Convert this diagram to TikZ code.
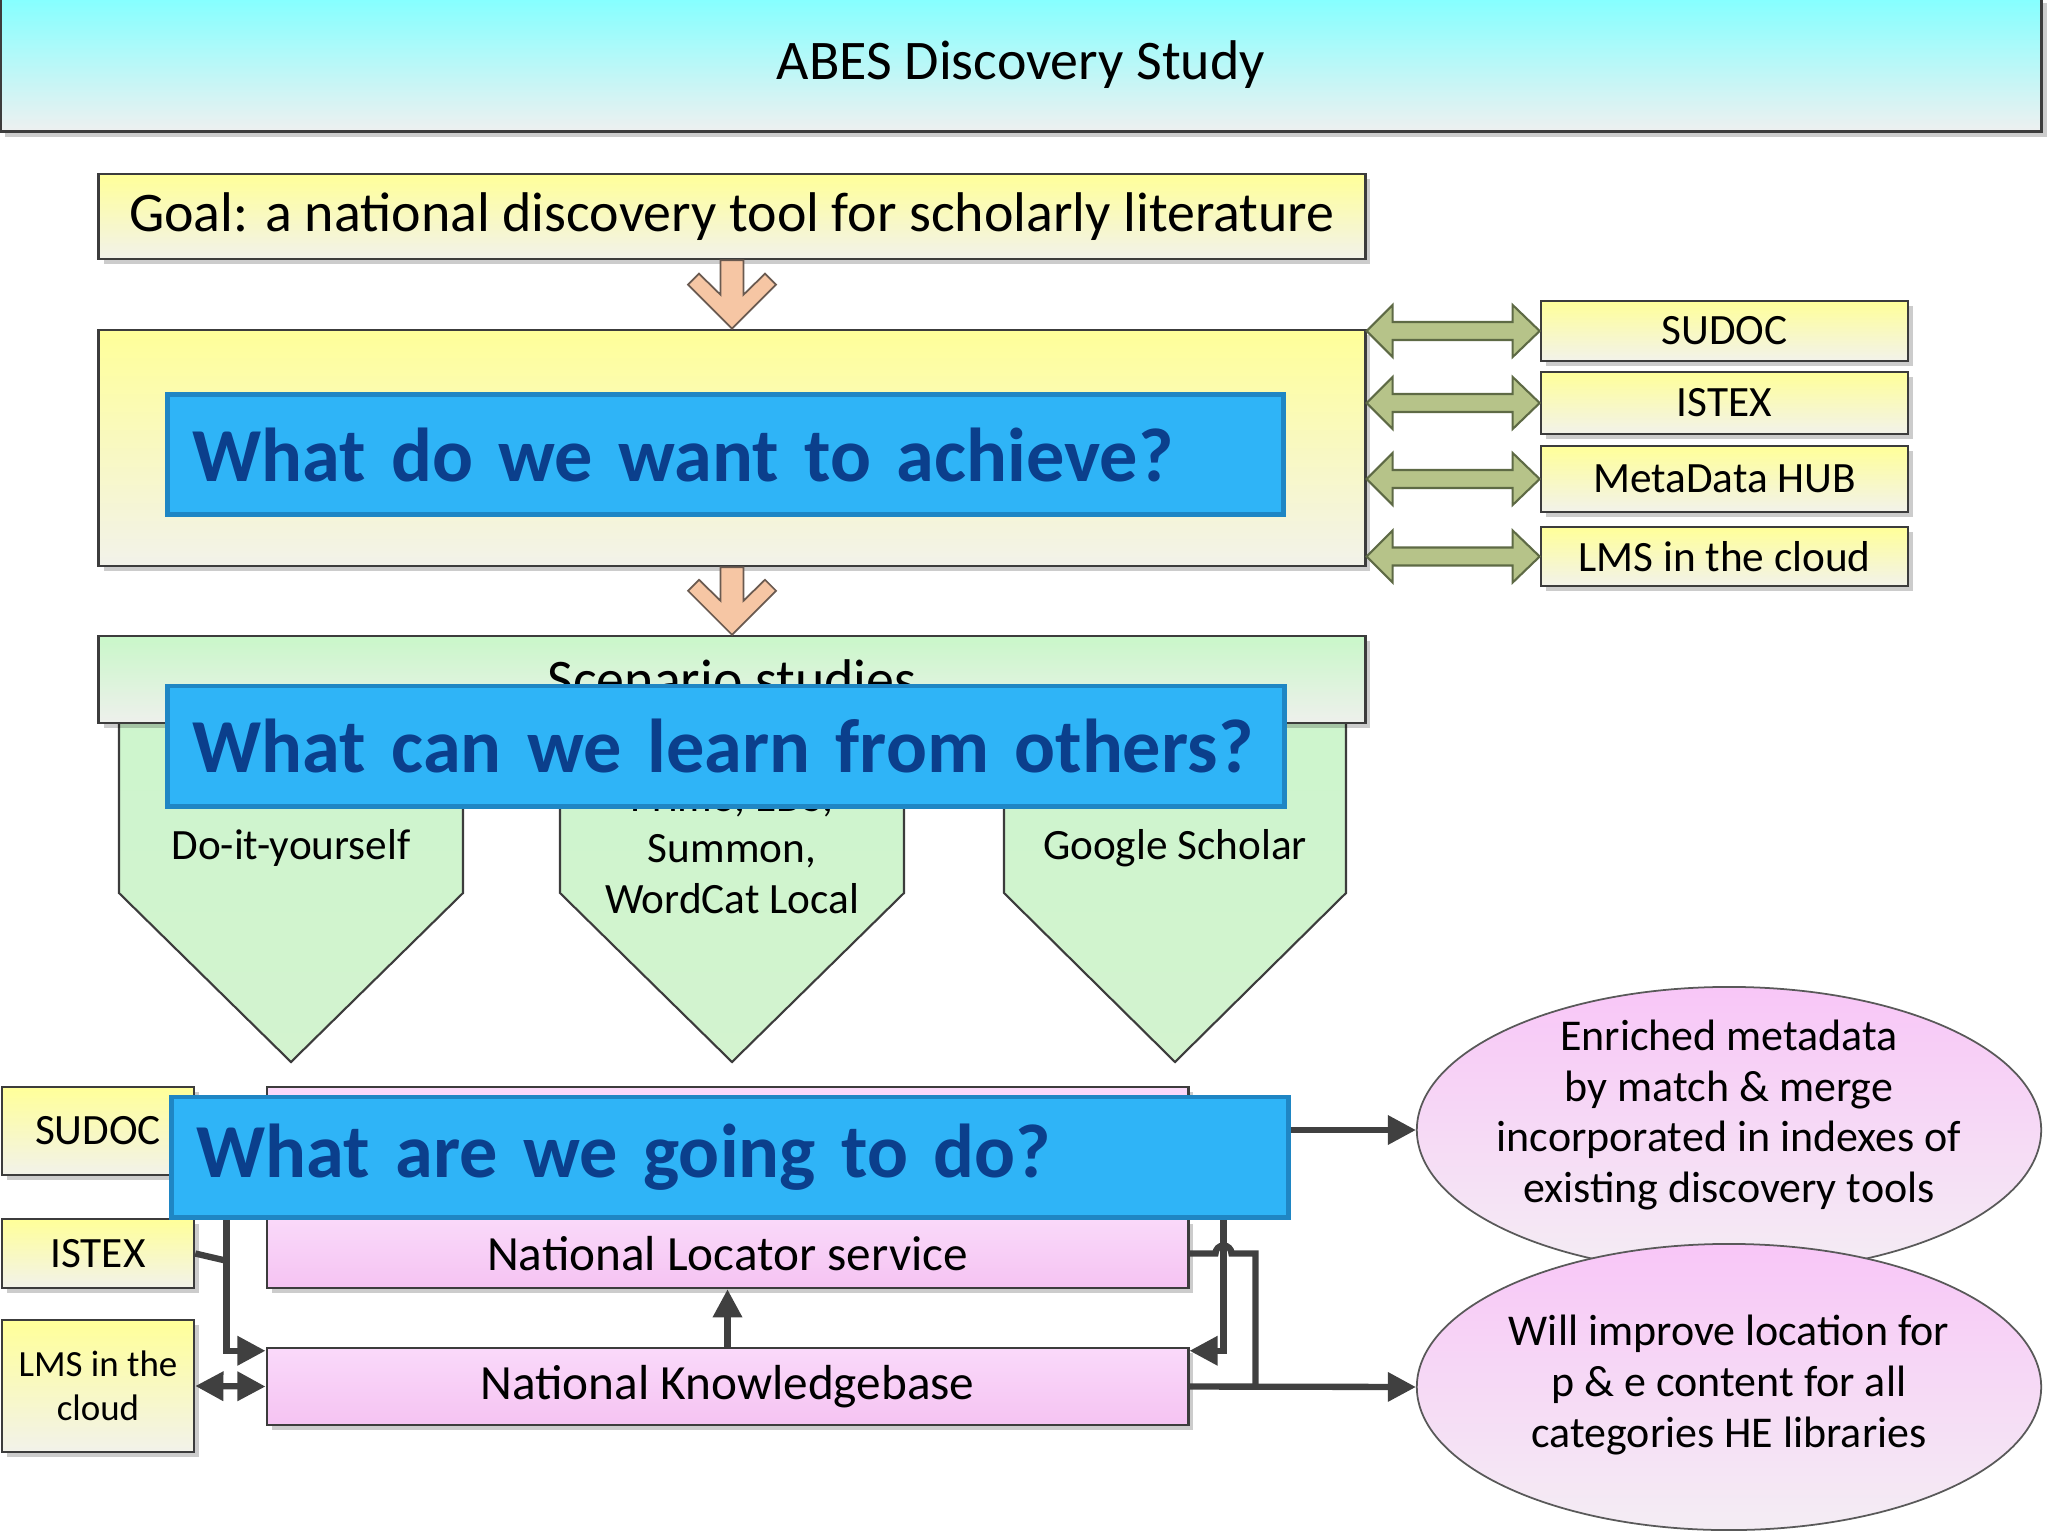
\documentclass[tikz,border=0pt]{standalone}
\usepackage{fontspec}
\setmainfont{Carlito}
\usetikzlibrary{calc,shapes.geometric,arrows.meta,shadows}
\definecolor{titletop}{HTML}{85FFFF}
\definecolor{titlebot}{HTML}{EEF0F0}
\definecolor{yelltop}{HTML}{FFFF99}
\definecolor{yellbot}{HTML}{F2F2EA}
\definecolor{greentop}{HTML}{C9F7C9}
\definecolor{greenbot}{HTML}{EEF0EC}
\definecolor{penttop}{HTML}{CDF5CD}
\definecolor{pentbot}{HTML}{D3F3CF}
\definecolor{qblue}{HTML}{2FB4F7}
\definecolor{qbline}{HTML}{1F86C4}
\definecolor{qtext}{HTML}{0B3F8C}
\definecolor{pinktop}{HTML}{FAD9FA}
\definecolor{pinkbot}{HTML}{F5C3F2}
\definecolor{elltop}{HTML}{F8C6F7}
\definecolor{ellbot}{HTML}{F4EDF4}
\definecolor{peach}{HTML}{F6C6A4}
\definecolor{peachline}{HTML}{6A5A50}
\definecolor{olive}{HTML}{B6C389}
\definecolor{oliveline}{HTML}{5E6A45}
\definecolor{boxline}{HTML}{3C3C3C}
\definecolor{connc}{HTML}{404040}
\newcommand\fTitle{\fontsize{15.9}{19}\selectfont}
\newcommand\fSmall{\fontsize{12.3}{14.5}\selectfont}
\newcommand\fTiny{\fontsize{10.5}{12.6}\selectfont}
\newcommand\fPink{\fontsize{14}{17}\selectfont}
\newcommand\fEll{\fontsize{12.5}{14.5}\selectfont}
\newcommand\fQ{\bfseries\fontsize{21.7}{26}\selectfont\hyphenpenalty=10000}
\newcommand\peachdown[2]{%
  \draw[peacharrow] ($(#1)+(-11.5,0)$) -- ($(#2)+(-11.5,-34)$) -- ($(#2)+(-33,-55)$)
    -- ($(#2)+(-44,-44)$) -- (#2) -- ($(#2)+(44,-44)$) -- ($(#2)+(33,-55)$)
    -- ($(#2)+(11.5,-34)$) -- ($(#1)+(11.5,0)$) -- cycle;}
\newcommand\olivedouble[2]{%
  \draw[olivearrow] (#1) -- ($(#1)+(26,-26)$) -- ($(#1)+(26,-9)$) -- ($(#2)+(-27,-9)$)
    -- ($(#2)+(-27,-26)$) -- (#2) -- ($(#2)+(-27,26)$) -- ($(#2)+(-27,9)$)
    -- ($(#1)+(26,9)$) -- ($(#1)+(26,26)$) -- cycle;}
\tikzset{
  sz/.style 2 args={minimum width=#1cm, minimum height=#2cm},
  shad/.style={drop shadow={shadow xshift=0.05cm, shadow yshift=-0.05cm, opacity=0.2, fill=black}},
  box/.style={draw=boxline, line width=0.7pt, inner sep=0pt, align=center, shad},
  titlebox/.style={box, line width=1pt, top color=titletop, bottom color=titlebot, font=\fTitle},
  yellowbox/.style={box, top color=yelltop, bottom color=yellbot},
  greenbox/.style={box, top color=greentop, bottom color=greenbot},
  pinkbox/.style={box, top color=pinktop, bottom color=pinkbot, font=\fPink},
  bluebox/.style={fill=qblue, draw=qbline, line width=1.4pt, text=qtext, font=\fQ,
    minimum width=11.16cm, minimum height=1.20cm, text width=10.76cm,
    inner xsep=0.2cm, inner ysep=0pt, align=left},
  pent/.style={draw=boxline, line width=0.6pt, top color=penttop, bottom color=pentbot},
  ptext/.style={font=\fSmall, align=center, inner sep=0pt},
  ellbox/.style={ellipse, draw=black!65, line width=0.5pt, top color=elltop, bottom color=ellbot,
    minimum width=6.24cm, minimum height=2.86cm, inner sep=0pt},
  etext/.style={font=\fEll, align=center, inner sep=0pt},
  peacharrow/.style={fill=peach, draw=peachline, line width=0.5pt, line join=miter},
  olivearrow/.style={fill=olive, draw=oliveline, line width=0.6pt, line join=miter},
  conn/.style={draw=connc, line width=1.8pt},
  tip/.style={-{Triangle[length=8pt,width=8pt]}},
}
\begin{document}
\begin{tikzpicture}[x=0.01cm, y=-0.01cm]
\useasboundingbox (0,0) rectangle (2048,1536);
% title
\node[titlebox, sz={20.40}{1.33}] (title) at (1021,65) {ABES Discovery Study};
% goal
\node[yellowbox, sz={12.66}{0.85}, font=\fTitle] (goal) at (732,216.5)
  {Goal: a national discovery tool for scholarly literature};
\node[yellowbox, sz={12.66}{2.36}] (mid) at (732,448) {};
\peachdown{goal.south}{mid.north}
\node[bluebox] (q1) at (725.5,454.5) {\hspace*{0.05cm}What do we want to achieve?};
% right boxes
\node[yellowbox, sz={3.67}{0.60}, font=\fSmall] (sudocR) at (1724.5,331) {SUDOC};
\node[yellowbox, sz={3.67}{0.62}, font=\fSmall] (istexR) at (1724.5,403) {ISTEX};
\node[yellowbox, sz={3.67}{0.66}, font=\fSmall] (metaR) at (1724.5,479) {MetaData HUB};
\node[yellowbox, sz={3.67}{0.59}, font=\fSmall] (lmsR) at (1724.5,556.5) {LMS in the cloud};
\foreach \n in {sudocR,istexR,metaR,lmsR}{
  \coordinate (\n-l) at (mid.east |- \n.west);
  \olivedouble{\n-l}{\n.west}
}
% scenario studies
\draw[pent] (119,700) -- (119,893) -- (291,1062) -- (463,893) -- (463,700) -- cycle;
\draw[pent] (560,700) -- (560,893) -- (732,1062) -- (904,893) -- (904,700) -- cycle;
\draw[pent] (1004,700) -- (1004,893) -- (1175,1062) -- (1346,893) -- (1346,700) -- cycle;
\node[ptext] (p1t) at (291,848) {Do-it-yourself};
\node[ptext] (p2t) at (732,848) {Primo, EDS,\\Summon,\\WordCat Local};
\node[ptext] (p3t) at (1175,848) {Google Scholar};
\node[greenbox, sz={12.66}{0.87}, font=\fTitle] (scen) at (732,679.5) {Scenario studies};
\peachdown{mid.south}{scen.north}
\node[bluebox] (q2) at (726,746) {\hspace*{0.05cm}What can we learn from others?};
% bottom section
\node[pinkbox, sz={9.21}{1.13}] (ptop) at (727.5,1143.5) {};
\node[pinkbox, sz={9.21}{0.69}] (loc) at (727.5,1253.5) {National Locator service};
\node[pinkbox, sz={9.21}{0.77}] (kb) at (727.5,1386.5) {National Knowledgebase};
\node[yellowbox, sz={1.92}{0.88}, font=\fSmall] (sudocL) at (98,1131) {SUDOC};
\node[yellowbox, sz={1.92}{0.69}, font=\fSmall] (istexL) at (98,1253.5) {ISTEX};
\node[yellowbox, sz={1.92}{1.32}, font=\fTiny] (lmsL) at (98,1386) {LMS in the\\cloud};
\node[ellbox] (e1) at (1729,1130) {};
\node[etext] (e1t) at (1729,1115) {Enriched metadata\\by match \& merge\\incorporated in indexes of\\existing discovery tools};
\node[ellbox] (e2) at (1729,1387) {};
\node[etext] (e2t) at (1729,1385) {Will improve location for\\p \& e content for all\\categories HE libraries};
% connectors
\coordinate (j1) at ($(kb.east)+(66,0)$);
\coordinate (r1) at ($(kb.north east)+(34,4)$);
\coordinate (l1) at ($(kb.north west)+(-39,4)$);
\coordinate (l2) at ($(l1)+(0,-90)$);
\coordinate (hop) at ($(loc.east)+(26,0)$);
\draw[conn, tip] (ptop.east |- e1.west) -- (e1.west);
\draw[conn, tip] (kb.east) -- (e2.west);
\draw[conn, tip] (ptop.south -| r1) |- (kb.east |- r1);
\draw[conn] (loc.east) -- (hop) arc[start angle=180, end angle=0, radius=0.08cm] -- (loc.east -| j1) -- (j1);
\draw[conn, tip] (ptop.south -| l1) |- (kb.west |- l1);
\draw[conn] (istexL.east) -- (l2);
\draw[conn, {Triangle[length=8pt,width=8pt]}-{Triangle[length=8pt,width=8pt]}] (lmsL.east) -- (kb.west);
\draw[conn, tip] (kb.north) -- (loc.south);
\node[bluebox] (q3) at (730,1157) {\hspace*{0.05cm}What are we going to do?};
\end{tikzpicture}
\end{document}
